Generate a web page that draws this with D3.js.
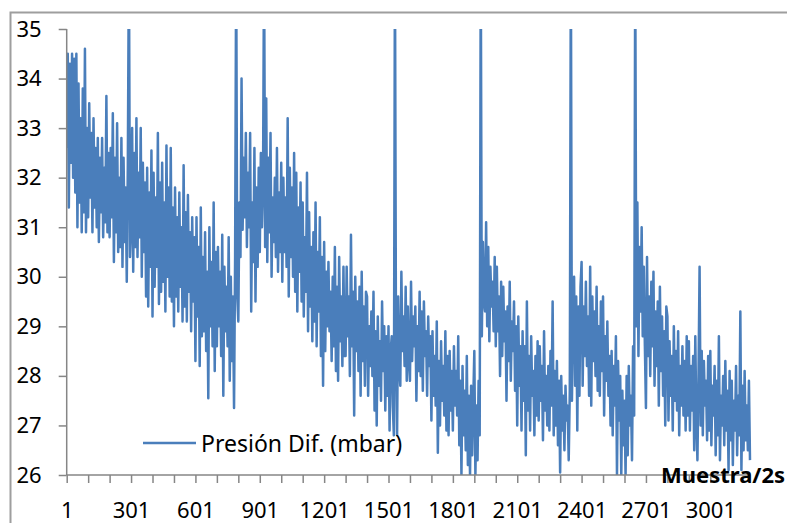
<!DOCTYPE html>
<html>
<head>
<meta charset="utf-8">
<script src="https://cdn.jsdelivr.net/npm/d3@7"></script>
<style>
  body { margin: 0; background: #fff; }
  svg { display: block; font-family: "Noto Sans", sans-serif; }
</style>
</head>
<body>
<div id="chart"></div>
<script>
// one reading every 5 samples (muestra 1, 6, 11, ...), values in mbar
var firstSample = 1,
    sampleStep = 5;

var presion = [
  32.6, 34.5, 31.4, 34.3, 32.3, 34.5, 32.0, 34.4, 31.7, 34.5, 31.0, 33.9, 31.5, 33.2, 30.9, 33.8, 31.3, 34.6, 30.9, 33.0,
  31.2, 33.5, 31.6, 32.9, 30.9, 33.2, 31.4, 32.6, 31.0, 32.8, 30.7, 32.4, 31.3, 32.8, 30.8, 32.2, 31.1, 33.65, 30.9, 32.5,
  30.8, 32.6, 31.2, 33.3, 30.3, 32.4, 30.9, 33.1, 30.5, 32.0, 30.6, 32.8, 30.2, 32.4, 30.7, 31.8, 29.9, 32.3, 36.5, 30.4,
  31.0, 33.0, 30.1, 32.5, 30.6, 33.2, 30.4, 32.1, 30.8, 33.0, 30.0, 32.3, 30.5, 31.9, 29.6, 32.2, 29.4, 31.7, 30.2, 32.55,
  29.2, 32.1, 29.8, 31.6, 30.2, 32.9, 29.45, 31.9, 29.7, 32.3, 29.9, 31.5, 29.3, 32.65, 30.0, 31.8, 29.6, 32.6, 29.5, 31.4,
  29.0, 31.8, 29.6, 31.2, 29.3, 31.7, 29.8, 31.0, 29.1, 32.25, 29.4, 31.3, 29.1, 31.65, 29.7, 30.9, 28.9, 31.2, 29.5, 30.8,
  28.3, 31.2, 29.2, 30.6, 28.2, 31.4, 28.8, 30.4, 28.9, 30.9, 28.5, 30.1, 27.55, 31.0, 29.0, 30.3, 28.6, 31.5, 28.1, 30.5,
  28.6, 30.6, 29.0, 30.1, 28.4, 30.85, 27.6, 30.2, 28.9, 29.8, 28.6, 30.8, 27.9, 30.0, 28.3, 29.6, 27.35, 30.4, 36.5, 29.6,
  29.1, 31.5, 30.4, 34.0, 30.95, 32.4, 31.2, 32.9, 30.6, 32.1, 31.0, 32.9, 29.3, 31.5, 30.3, 32.6, 29.5, 31.8, 30.2, 32.2,
  30.5, 32.5, 31.0, 31.8, 36.5, 30.6, 33.6, 30.3, 32.4, 30.9, 32.9, 30.0, 31.6, 30.7, 32.0, 30.4, 32.6, 30.1, 31.7, 30.5,
  32.3, 29.9, 32.0, 30.5, 31.6, 30.2, 33.2, 29.6, 32.2, 30.4, 31.8, 30.0, 32.5, 29.7, 32.1, 29.3, 31.4, 30.1, 31.9, 29.5,
  31.5, 29.2, 30.8, 29.7, 32.1, 28.9, 31.3, 29.4, 30.6, 28.7, 30.9, 29.1, 31.5, 28.6, 30.5, 29.3, 31.2, 28.4, 30.4, 27.8,
  30.7, 28.5, 30.1, 29.0, 30.3, 28.9, 29.7, 28.3, 30.0, 28.6, 30.6, 28.1, 29.8, 27.9, 30.4, 28.7, 29.6, 28.2, 30.2, 28.4,
  28.4, 30.2, 28.8, 29.6, 28.0, 30.85, 28.6, 29.7, 27.2, 30.0, 28.5, 29.5, 28.1, 29.8, 27.6, 30.1, 28.3, 29.4, 27.8, 29.7,
  29.6, 27.6, 29.0, 28.2, 29.3, 28.0, 29.7, 27.3, 28.9, 27.0, 29.2, 27.8, 28.7, 27.5, 29.5, 28.1, 29.0, 27.3, 28.8, 27.6,
  29.0, 26.9, 28.5, 28.8, 27.4, 26.8, 36.5, 28.4, 26.8, 29.6, 28.2, 27.8, 30.1, 28.5, 29.2, 28.2, 29.8, 27.9, 29.4, 28.3,
  27.9, 29.9, 28.3, 29.2, 28.6, 29.4, 27.5, 29.0, 28.1, 29.7, 28.0, 29.3, 27.7, 29.5, 28.4, 28.9, 27.6, 29.2, 28.2, 28.8,
  27.1, 28.9, 27.6, 28.4, 27.4, 29.1, 26.45, 28.3, 27.0, 28.7, 27.5, 28.2, 27.2, 28.9, 26.9, 28.4, 26.8, 28.5, 27.3, 28.1,
  26.9, 28.6, 27.4, 28.1, 27.2, 28.8, 26.6, 27.9, 26.0, 28.2, 26.8, 27.7, 26.5, 28.4, 26.2, 27.6, 26.0, 27.8, 26.4, 27.5,
  28.5, 26.0, 27.4, 26.3, 27.9, 26.8, 36.5, 28.8, 30.7, 29.5, 29.3, 31.1, 29.0, 30.6, 28.7, 30.2, 29.4, 29.9, 28.9, 30.4,
  28.6, 30.2, 28.9, 29.6, 28.0, 29.9, 28.4, 29.8, 28.7, 29.3, 27.5, 29.4, 28.3, 29.9, 27.9, 29.1, 28.5, 29.5, 27.7, 29.0,
  27.0, 29.2, 27.8, 28.6, 26.9, 28.9, 27.5, 28.6, 26.4, 29.5, 27.3, 28.4, 26.9, 28.8, 27.6, 28.1, 26.8, 28.4, 27.2, 28.7,
  27.1, 28.6, 27.5, 28.2, 26.7, 28.9, 27.3, 28.0, 27.0, 28.2, 26.9, 28.5, 27.4, 29.5, 26.8, 28.1, 27.0, 28.3, 26.6, 27.9,
  26.05, 28.0, 26.9, 27.6, 26.5, 27.8, 27.1, 27.4, 26.3, 27.7, 36.5, 27.5, 29.2, 30.0, 27.8, 29.6, 26.9, 29.4, 27.6, 29.8,
  30.3, 27.8, 29.4, 28.4, 29.9, 28.2, 29.2, 27.6, 30.2, 27.4, 29.6, 28.3, 29.3, 28.0, 29.8, 27.7, 29.0, 27.6, 29.5, 28.1,
  29.6, 27.2, 28.8, 27.9, 29.1, 27.6, 28.4, 27.0, 28.5, 26.8, 28.2, 27.4, 28.8, 26.0, 28.3, 27.1, 28.0, 26.0, 27.7, 26.6,
  27.5, 26.0, 28.0, 26.4, 28.2, 27.0, 27.6, 26.3, 28.6, 27.2, 36.5, 29.0, 31.5, 28.4, 30.6, 29.3, 31.0, 28.8, 30.2, 28.6,
  27.35, 30.4, 28.4, 29.6, 28.0, 29.9, 28.6, 30.1, 27.8, 29.3, 28.2, 29.5, 27.4, 29.8, 28.1, 29.2, 27.6, 28.9, 27.0, 29.4,
  29.2, 27.1, 28.7, 27.6, 28.4, 26.9, 29.0, 27.5, 28.5, 27.3, 28.9, 26.8, 28.2, 27.4, 28.6, 27.2, 28.3, 26.9, 28.8, 27.2,
  28.7, 26.9, 28.2, 27.3, 28.4, 26.5, 28.8, 27.1, 26.3, 28.0, 30.2, 27.0, 28.5, 26.8, 28.3, 27.4, 27.9, 26.7, 28.4, 26.9,
  28.5, 26.6, 27.8, 27.2, 28.2, 26.4, 27.9, 26.8, 28.8, 26.3, 27.6, 27.0, 28.0, 26.6, 28.3, 26.9, 27.7, 26.1, 28.1, 26.7,
  27.9, 26.2, 27.5, 26.9, 28.2, 26.4, 27.6, 26.8, 29.3, 26.1, 27.8, 26.5, 28.1, 26.7, 27.4, 26.5, 27.9, 26.3
];

var yTicks = [26, 27, 28, 29, 30, 31, 32, 33, 34, 35];
var xTicks = d3.range(1, 3102, 100);
var xLabelEvery = 300;

var serieName = "Presión Dif. (mbar)",
    xTitle = "Muestra/2s";

var width = 787, height = 523;
var plot = {left: 66.7, right: 750, top: 29, bottom: 475};
var lineColor = "#4a7ebb";

var data = presion.map(function(v, i) {
  return {x: firstSample + i * sampleStep, y: v};
});

var svg = d3.select("#chart").append("svg")
  .attr("width", width)
  .attr("height", height);

// outer chart frame
svg.append("rect")
  .attr("x", 10.5).attr("y", 12.5)
  .attr("width", 900).attr("height", 700)
  .attr("fill", "none")
  .attr("stroke", "#9e9e9e")
  .attr("stroke-width", 2);

var x = d3.scaleLinear()
  .domain([firstSample, data[data.length - 1].x])
  .range([plot.left, plot.right]);

var y = d3.scaleLinear()
  .domain([26, 35])
  .range([plot.bottom, plot.top]);

svg.append("clipPath").attr("id", "clip")
  .append("rect")
  .attr("x", plot.left).attr("y", plot.top)
  .attr("width", plot.right - plot.left + 2)
  .attr("height", plot.bottom - plot.top);

var line = d3.line()
  .x(function(d) { return x(d.x); })
  .y(function(d) { return y(d.y); });

svg.append("path")
  .datum(data)
  .attr("clip-path", "url(#clip)")
  .attr("fill", "none")
  .attr("stroke", lineColor)
  .attr("stroke-width", 2.5)
  .attr("stroke-linejoin", "round")
  .attr("d", line);

// axes
var yAxis = d3.axisLeft(y)
  .tickValues(yTicks)
  .tickSize(8)
  .tickPadding(17)
  .tickFormat(d3.format("d"));

var xAxis = d3.axisBottom(x)
  .tickValues(xTicks)
  .tickSize(8)
  .tickPadding(19)
  .tickFormat(function(d) { return (d - 1) % xLabelEvery === 0 ? d : ""; });

var gy = svg.append("g")
  .attr("transform", "translate(" + plot.left + ",0)")
  .call(yAxis);

var gx = svg.append("g")
  .attr("transform", "translate(0," + plot.bottom + ")")
  .call(xAxis);

[gx, gy].forEach(function(g) {
  g.selectAll("path, line")
    .attr("stroke", "#868686")
    .attr("stroke-width", 1.5);
  g.selectAll("text")
    .attr("fill", "#000")
    .style("font-family", "'Noto Sans', sans-serif")
    .style("font-size", "22px");
});
gy.select(".domain").attr("d", "M0," + plot.top + "V" + plot.bottom);
gx.select(".domain").attr("d", "M" + plot.left + ",0H" + plot.right);

// axis title
svg.append("text")
  .attr("x", 661)
  .attr("y", 483)
  .attr("font-size", "22px")
  .attr("font-weight", "bold")
  .text(xTitle);

// legend
var legend = svg.append("g");
legend.append("line")
  .attr("x1", 143).attr("x2", 196)
  .attr("y1", 443).attr("y2", 443)
  .attr("stroke", lineColor)
  .attr("stroke-width", 2.5);
legend.append("text")
  .attr("x", 201)
  .attr("y", 452)
  .attr("font-size", "23px")
  .text(serieName);
</script>
</body>
</html>
